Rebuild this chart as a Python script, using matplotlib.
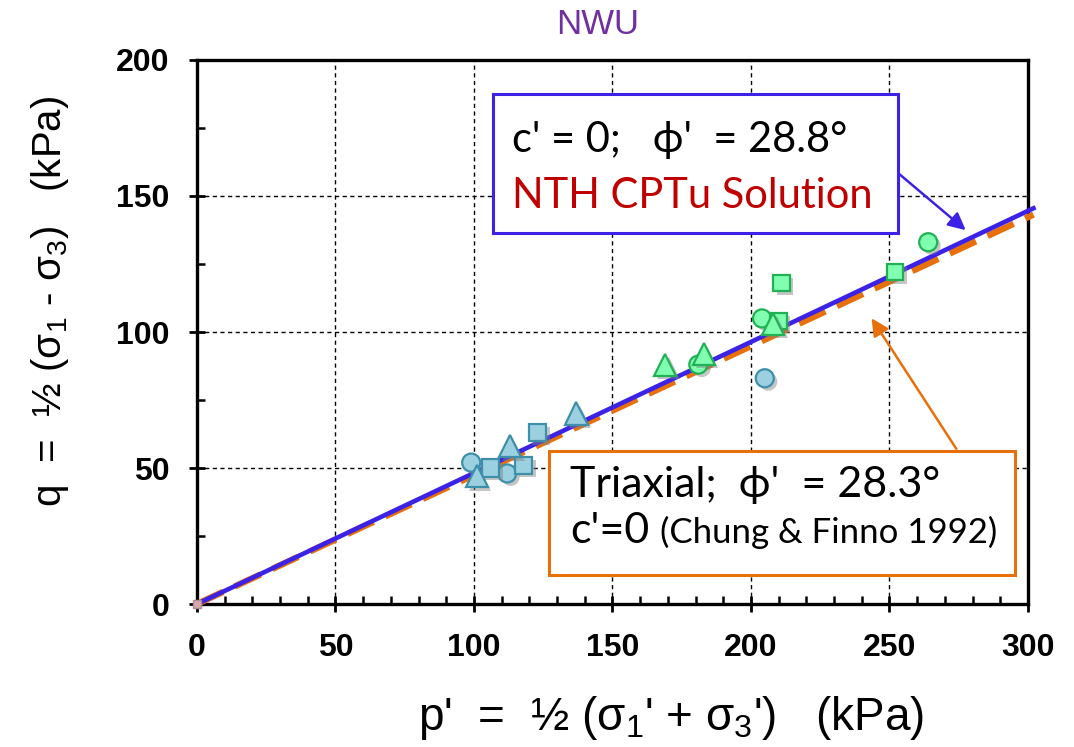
import matplotlib
matplotlib.use("Agg")
import matplotlib.pyplot as plt
import matplotlib.patheffects as pe
from matplotlib.patches import Rectangle
import numpy as np

plt.rcParams['mathtext.fontset'] = 'custom'
plt.rcParams['mathtext.rm'] = 'Liberation Sans'
plt.rcParams['mathtext.it'] = 'Liberation Sans'

# triaxial data points (p', q) in kPa
blue_circ_p = [99, 112, 205]
blue_circ_q = [52, 48, 83]
blue_tri_p = [101, 113, 137]
blue_tri_q = [47, 58, 70]
blue_sq_p = [106, 118, 123]
blue_sq_q = [50, 51, 63]

green_circ_p = [181, 204, 264]
green_circ_q = [88, 105, 133]
green_tri_p = [169, 183, 208]
green_tri_q = [88, 92, 103]
green_sq_p = [210, 211, 252]
green_sq_q = [104, 118, 122]

origin_p = [0]
origin_q = [0]

phi_cptu = 28.8
phi_triax = 28.3
p_line = [0, 302]

box_font = ['Lato', 'DejaVu Sans']

fig = plt.figure(figsize=(10.74, 7.47), dpi=100)
ax = fig.add_axes([0.1834, 0.1914, 0.7737, 0.7283])

ax.set_xlim(0, 300)
ax.set_ylim(0, 200)

ax.plot(p_line, np.array(p_line) * np.sin(np.radians(phi_triax)), color='#E8700A',
        lw=4.6, ls=(0, (4.5, 2.0)), zorder=3, clip_on=False)
ax.plot(p_line, np.array(p_line) * np.sin(np.radians(phi_cptu)), color='#3B22E6',
        lw=3.3, zorder=4, clip_on=False)

shadow = [pe.SimplePatchShadow(offset=(2.5, -2.5), shadow_rgbFace='#808080', alpha=0.45), pe.Normal()]
bface, bedge = '#9BD0E0', '#3E8FAA'
gface, gedge = '#80FFB0', '#22B055'
kw = dict(ls='none', mew=1.6, zorder=5, path_effects=shadow)
ax.plot(origin_p, origin_q, 's', ms=6, mfc='#D8A8B0', mec='#B08890', clip_on=False, zorder=5)
ax.plot(blue_circ_p, blue_circ_q, 'o', ms=13, mfc=bface, mec=bedge, **kw)
ax.plot(blue_sq_p, blue_sq_q, 's', ms=12.5, mfc=bface, mec=bedge, **kw)
ax.plot(blue_tri_p, blue_tri_q, '^', ms=16, mfc=bface, mec=bedge, **kw)
ax.plot(green_circ_p, green_circ_q, 'o', ms=13, mfc=gface, mec=gedge, **kw)
ax.plot(green_sq_p, green_sq_q, 's', ms=12, mfc=gface, mec=gedge, **kw)
ax.plot(green_tri_p, green_tri_q, '^', ms=16, mfc=gface, mec=gedge, **kw)

ax.set_xticks(np.arange(0, 301, 50))
ax.set_yticks(np.arange(0, 201, 50))
ax.set_xticks(np.arange(0, 301, 10), minor=True)
ax.set_yticks(np.arange(0, 201, 25), minor=True)
ax.tick_params(which='major', direction='inout', length=12, width=2)
ax.tick_params(which='minor', direction='in', length=6, width=1.8)
ax.tick_params(axis='x', which='major', pad=15)
ax.tick_params(axis='y', which='major', pad=14)
for lab in ax.get_xticklabels() + ax.get_yticklabels():
    lab.set_fontfamily('Liberation Sans')
    lab.set_fontweight('bold')
    lab.set_fontsize(23)
for s in ax.spines.values():
    s.set_linewidth(2.4)
ax.grid(True, which='major', color='black', ls=(0, (3, 2.5)), lw=1.0)
ax.set_axisbelow(True)

# annotation boxes
ax.add_patch(Rectangle((106.9, 136.4), 146.2, 51.1, fc='white', ec='#3B22E6', lw=2.2, zorder=6))
ax.text(113.7, 166.2, "c' = 0;   ϕ'  = 28.8°", fontsize=30, family=box_font,
        va='baseline', zorder=7)
ax.text(113.7, 145.6, "NTH CPTu Solution", fontsize=30, family=box_font,
        color='#C00000', va='baseline', zorder=7)
ax.annotate('', xy=(278.3, 136.8), xytext=(252.7, 158.8),
            arrowprops=dict(arrowstyle='-|>', color='#3B22E6', lw=1.8, mutation_scale=26), zorder=6)

ax.add_patch(Rectangle((127, 10.7), 168.3, 45.5, fc='white', ec='#E8700A', lw=2.2, zorder=6))
ax.text(134.7, 39.3, "Triaxial;  ϕ'  = 28.3°", fontsize=31, family=box_font,
        va='baseline', zorder=7)
ax.text(134.7, 22.4, "c'=0", fontsize=31, family=box_font, va='baseline', zorder=7)
ax.text(167.1, 22.4, "(Chung & Finno 1992)", fontsize=25, family=box_font,
        va='baseline', zorder=7)
ax.annotate('', xy=(243, 105.9), xytext=(274.7, 56.2),
            arrowprops=dict(arrowstyle='-|>', color='#E8700A', lw=1.8, mutation_scale=26), zorder=6)

fig.text(0.556, 0.967, "NWU", color='#7030A0', fontsize=25, family='Liberation Sans',
         ha='center', va='center')
fig.text(0.047, 0.597, "q  =  ½ (σ$_1$ - σ$_3$)   (kPa)", rotation=90, fontsize=29,
         family='Liberation Sans', ha='center', va='center')
fig.text(0.625, 0.039, "p'  =  ½ (σ$_1$' + σ$_3$')   (kPa)", fontsize=33,
         family='Liberation Sans', ha='center', va='center')

fig.savefig('out.png', dpi=100)
